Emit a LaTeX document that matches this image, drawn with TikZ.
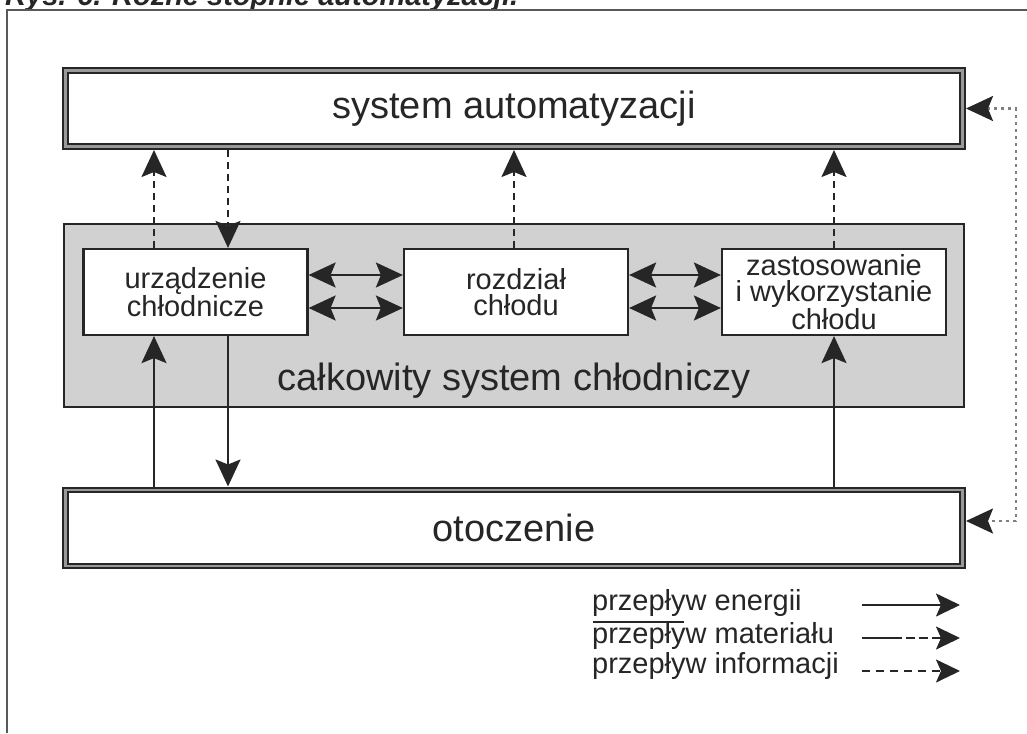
\documentclass[tikz,border=0pt]{standalone}
\usepackage{fontspec}
\setmainfont{Liberation Sans}
\usetikzlibrary{arrows.meta, positioning, calc}

\begin{document}
\begin{tikzpicture}[
    x=1pt, y=-1pt,
    ink/.style={draw=black!85, line width=2.2pt},
    bigbox/.style={ink, double=black!40, double distance=2.5pt, fill=white, minimum width=897pt, minimum height=76pt, outer sep=3.5pt, inner sep=0pt, font=\fontsize{38}{40}\selectfont, text=black!85},
    unit/.style={ink, fill=white, minimum width=224pt, minimum height=86pt, inner sep=0pt, align=center, font=\fontsize{29}{25.5}\selectfont, text=black!85},
    legtext/.style={anchor=base west, inner sep=0pt, font=\fontsize{29}{30}\selectfont, text=black!85},
    energy/.style={ink, -{Stealth[length=27pt, width=25pt, inset=5pt]}},
    info/.style={ink, dash pattern=on 7pt off 5pt, -{Stealth[length=27pt, width=25pt, inset=5pt]}},
    twoway/.style={ink, {Stealth[length=27pt, width=25pt, inset=5pt]}-{Stealth[length=27pt, width=25pt, inset=5pt]}},
    legtip/.style={ink, -{Stealth[length=24pt, width=23pt, inset=5pt]}}
]
    \useasboundingbox (0,0) rectangle (1027,733);
    \clip (0,0) rectangle (1027,733);

    % frame and (cut) caption
    \node[anchor=base west, inner sep=0pt, font=\fontsize{29}{30}\selectfont\bfseries\itshape, text=black!85] (title) at (5,6) {Rys. 6. Różne stopnie automatyzacji.};
    \draw[line width=2.5pt, draw=black!65] (7,733) -- (7,10) -- (1027,10);

    % boxes
    \node[bigbox] (sys) at (514,108.5) {system automatyzacji};
    \node[ink, fill=black!18, minimum width=900pt, minimum height=183pt] (total) at (514,315.5) {};
    \node[font=\fontsize{38}{40}\selectfont, text=black!85] (totlab) at (514,381) {całkowity system chłodniczy};
    \node[unit] (urz) at (195.5,292) {urządzenie\\chłodnicze};
    \node[unit] (roz) at (516,292) {rozdział\\chłodu};
    \node[unit] (zas) at (834,292) {zastosowanie\\i wykorzystanie\\chłodu};
    \node[bigbox] (oto) at (514,528) {otoczenie};

    % information
    \draw[info] ([xshift=-41.5pt]urz.north) -- ([xshift=-41.5pt]urz.north |- sys.south);
    \draw[info] ([xshift=32.5pt]urz.north |- sys.south) -- ([xshift=32.5pt]urz.north);
    \draw[info] ([xshift=-2pt]roz.north) -- ([xshift=-2pt]roz.north |- sys.south);
    \draw[info] (zas.north) -- (zas.north |- sys.south);

    % energy
    \draw[energy] ([xshift=-41.5pt]urz.south |- oto.north) -- ([xshift=-41.5pt]urz.south);
    \draw[energy] ([xshift=32.5pt]urz.south) -- ([xshift=32.5pt]urz.south |- oto.north);
    \draw[energy] (zas.south |- oto.north) -- (zas.south);

    % between the units
    \draw[twoway] ([yshift=17pt]urz.east) -- ([yshift=17pt]roz.west);
    \draw[twoway] ([yshift=-16pt]urz.east) -- ([yshift=-16pt]roz.west);
    \draw[twoway] ([yshift=17pt]roz.east) -- ([yshift=17pt]zas.west);
    \draw[twoway] ([yshift=-16pt]roz.east) -- ([yshift=-16pt]zas.west);

    % feedback on the right
    \coordinate (fbT) at (1016,108.5);
    \coordinate (fbB) at (1016,521);
    \draw[line width=2.5pt, draw=black!50, dash pattern=on 3pt off 4pt,
        {Stealth[length=27pt, width=25pt, inset=5pt, color=black!85]}-{Stealth[length=27pt, width=25pt, inset=5pt, color=black!85]}]
        (sys.east) -- (fbT) -- (fbB) -- (fbB -| oto.east);

    % legend
    \node[legtext] (lgE) at (592,610) {przepływ energii};
    \node[legtext] (lgM) at (592,643) {przepływ materiału};
    \node[legtext] (lgI) at (592,673) {przepływ informacji};
    \draw[line width=2pt, draw=black!85] (593,622) -- (684,622);
    \coordinate (eA) at (862,605);
    \coordinate (eB) at (960,605);
    \coordinate (mA) at (862,638);
    \coordinate (mB) at (960,638);
    \coordinate (iA) at (862,671);
    \coordinate (iB) at (960,671);
    \draw[legtip] (eA) -- (eB);
    \draw[legtip, dash pattern=on 40pt off 4pt on 9pt off 4pt on 9pt off 4pt on 20pt] (mA) -- (mB);
    \draw[legtip, dash pattern=on 8pt off 6pt] (iA) -- (iB);
\end{tikzpicture}
\end{document}
